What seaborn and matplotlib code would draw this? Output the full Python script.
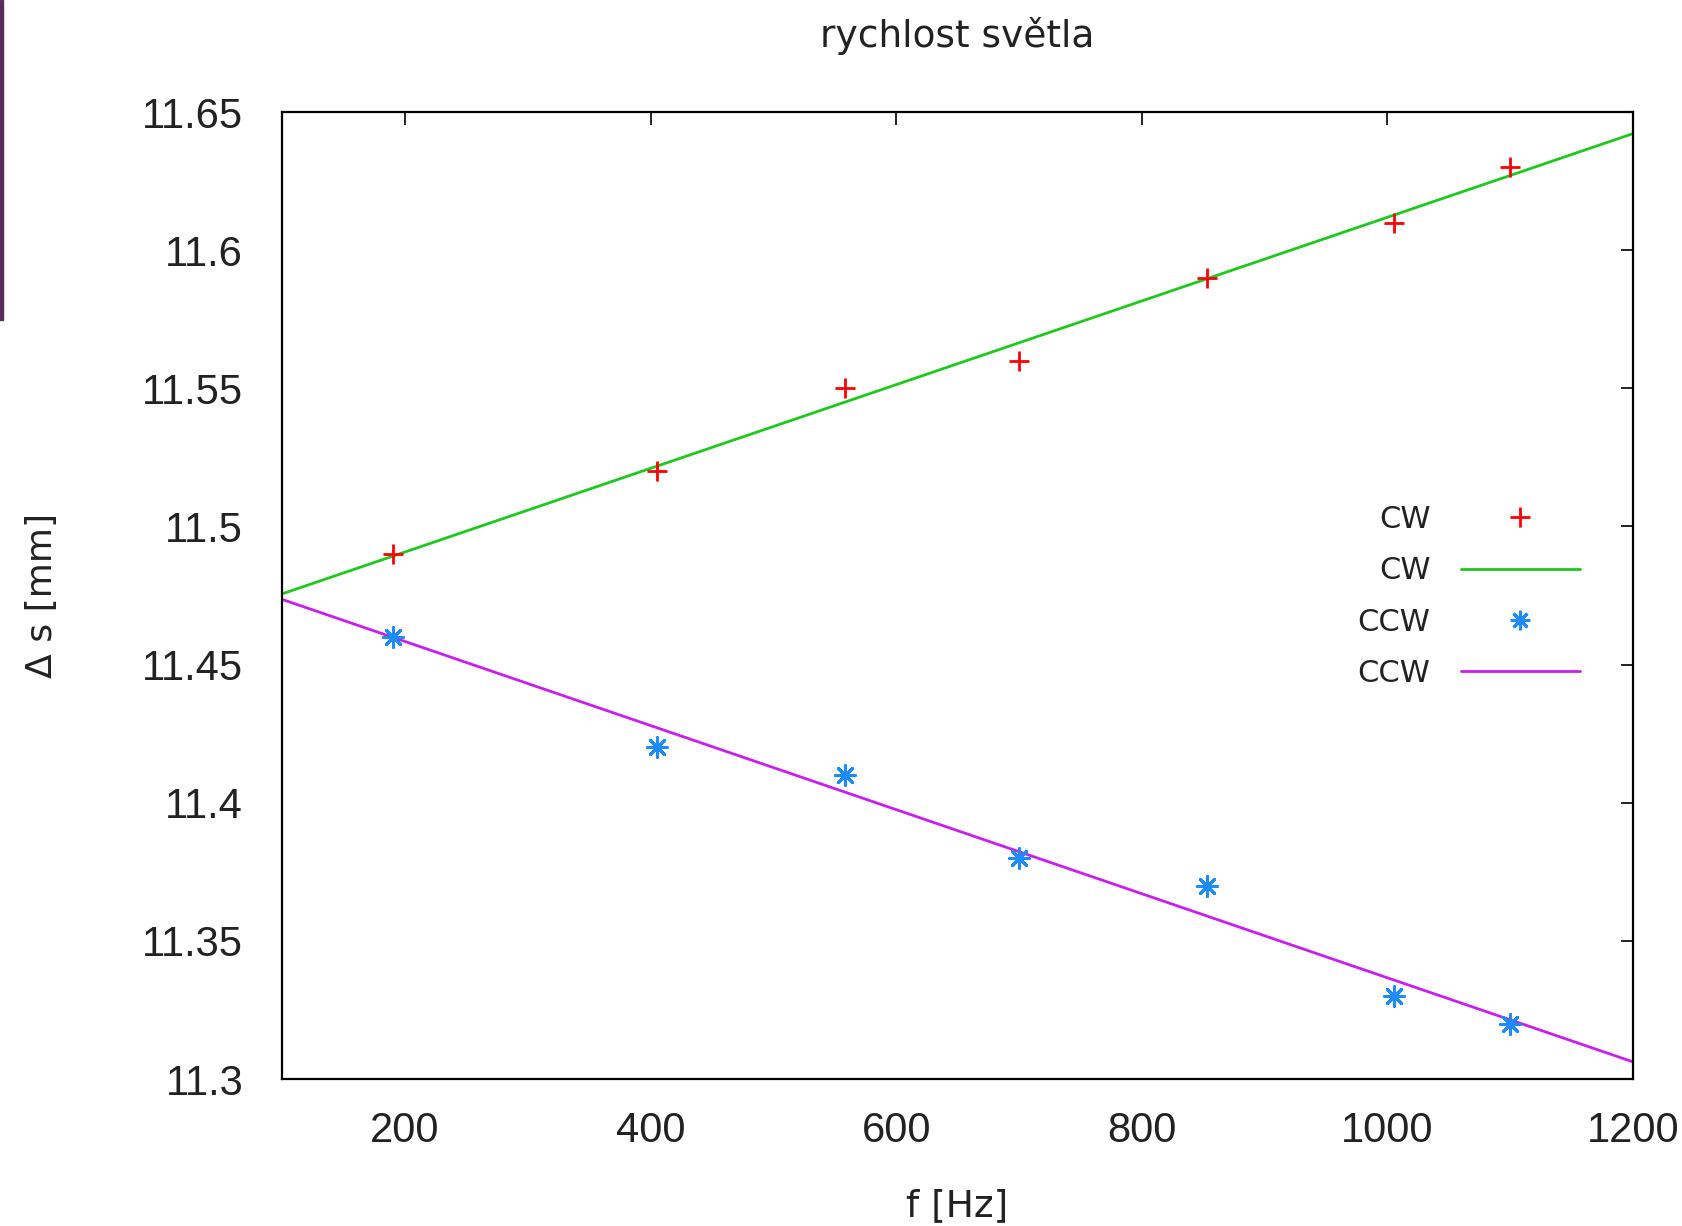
import numpy as np
import pandas as pd
import seaborn as sns
import matplotlib
matplotlib.use('Agg')
import matplotlib.pyplot as plt
from matplotlib.lines import Line2D
from matplotlib.patches import Rectangle

# measured points
freq = [190, 405, 558, 700, 853, 1005, 1100]
cw = [11.49, 11.52, 11.55, 11.56, 11.59, 11.61, 11.63]
ccw = [11.46, 11.42, 11.41, 11.38, 11.37, 11.33, 11.32]

# fitted lines (end points)
fit_f = [100, 1200]
cw_fit = [11.4756, 11.6422]
ccw_fit = [11.4736, 11.3062]

x_ticks = [200, 400, 600, 800, 1000, 1200]
y_ticks = [11.3, 11.35, 11.4, 11.45, 11.5, 11.55, 11.6, 11.65]
y_tick_labels = ["11.3", "11.35", "11.4", "11.45", "11.5", "11.55", "11.6", "11.65"]

c_red = "#ff0000"
c_green = "#1ec81e"
c_blue = "#1e8cff"
c_violet = "#c81ef0"

sns.set_style("white")
plt.rcParams['font.family'] = ['DejaVu Sans']

df_pts = pd.DataFrame({"f": freq, "cw": cw, "ccw": ccw})
df_fit = pd.DataFrame({"f": fit_f, "cw": cw_fit, "ccw": ccw_fit})

fig = plt.figure(figsize=(16.83, 12.26), dpi=100)
ax = fig.add_axes([0.1676, 0.1199, 0.8027, 0.7887])

sns.lineplot(data=df_fit, x="f", y="cw", ax=ax, color=c_green, linewidth=2.0)
sns.lineplot(data=df_fit, x="f", y="ccw", ax=ax, color=c_violet, linewidth=2.0)
sns.scatterplot(data=df_pts, x="f", y="cw", ax=ax, marker="+", s=200,
                color=c_red, linewidth=2.0, zorder=5)
sns.scatterplot(data=df_pts, x="f", y="ccw", ax=ax, marker=(8, 2, 0), s=200,
                color=c_blue, edgecolor=c_blue, linewidth=2.2, zorder=5)

ax.set_xlim(100, 1200)
ax.set_ylim(11.3, 11.65)
ax.set_xticks(x_ticks)
ax.set_yticks(y_ticks)
ax.set_yticklabels(y_tick_labels)
ax.tick_params(axis="both", direction="in", length=9, width=1.4,
               top=True, right=True, labelsize=30, colors="#222222")
ax.tick_params(axis="x", pad=23)
ax.tick_params(axis="y", pad=28)
for lbl in ax.get_xticklabels() + ax.get_yticklabels():
    lbl.set_family(['Liberation Sans', 'DejaVu Sans'])
for lbl in ax.get_yticklabels():
    lbl.set_va("center_baseline")
for sp in ax.spines.values():
    sp.set_linewidth(1.6)
    sp.set_color("black")

ax.set_title("rychlost světla", fontsize=27, pad=47, color="#222222")
ax.set_xlabel("f [Hz]", fontsize=27, labelpad=27, color="#222222")
ax.set_ylabel("Δ s [mm]", fontsize=26, labelpad=60, color="#222222")

handles = [
    Line2D([], [], linestyle="none", marker="+", markersize=14, markeredgewidth=2, color=c_red),
    Line2D([], [], color=c_green, linewidth=2.0),
    Line2D([], [], linestyle="none", marker=(8, 2, 0), markersize=14, markeredgewidth=2.2, color=c_blue),
    Line2D([], [], color=c_violet, linewidth=2.0),
]
labels = ["CW", "CW", "CCW", "CCW"]
leg = ax.legend(handles, labels, loc="upper right", bbox_to_anchor=(1580 / 1683, 1 - 505 / 1226),
                bbox_transform=fig.transFigure, frameon=False, markerfirst=False,
                fontsize=22, handlelength=3.9, handletextpad=1.0, labelspacing=0.73,
                borderpad=0, borderaxespad=0)
for t in leg.get_texts():
    t.set_color("#222222")

# purple strip on the left edge of the screenshot
fig.patches.append(Rectangle((0, 1 - 320 / 1226), 3 / 1683, 320 / 1226,
                             transform=fig.transFigure, color="#5a2a5e", zorder=10))

fig.savefig("out.png", dpi=100)
